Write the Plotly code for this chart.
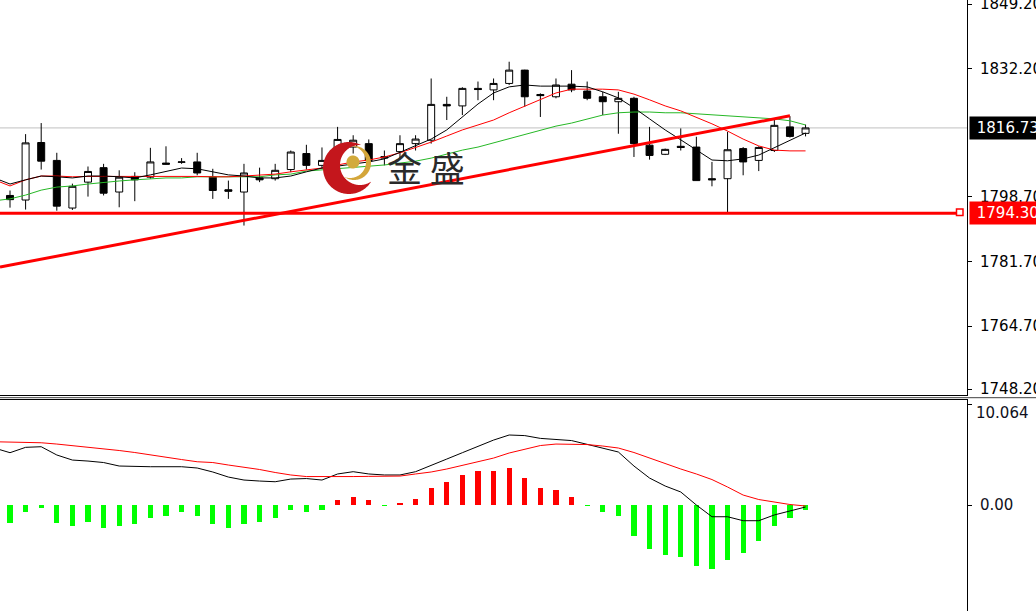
import numpy as np
import plotly.graph_objects as go

# ---------------- data ----------------
idx = list(range(52))
opens = [1799.0, 1797.8, 1812.9, 1808.2, 1795.7, 1802.5, 1806.3, 1799.9, 1804.0, 1803.8,
         1807.5, 1807.7, 1807.8, 1803.8, 1800.5, 1799.9, 1803.6, 1803.4, 1805.8, 1810.0,
         1806.9, 1810.0, 1811.7, 1812.6, 1808.8, 1810.5, 1812.6, 1813.5, 1822.9, 1822.5,
         1827.1, 1826.7, 1828.4, 1831.9, 1825.5, 1824.9, 1828.2, 1826.4, 1824.9, 1823.6,
         1824.5, 1812.2, 1809.8, 1811.9, 1811.7, 1803.4, 1803.4, 1811.3, 1808.2, 1810.8,
         1817.0, 1815.3]
highs = [1800.3, 1815.1, 1818.0, 1810.2, 1802.1, 1806.6, 1807.3, 1805.6, 1805.1, 1811.5,
         1811.9, 1808.8, 1810.2, 1806.0, 1802.9, 1807.3, 1806.3, 1807.3, 1810.8, 1812.3,
         1811.6, 1817.0, 1814.8, 1813.7, 1810.8, 1814.8, 1814.8, 1829.7, 1824.9, 1827.4,
         1828.9, 1829.7, 1834.1, 1832.0, 1825.8, 1829.7, 1831.9, 1828.9, 1826.2, 1826.2,
         1824.9, 1817.0, 1811.3, 1816.6, 1814.4, 1807.8, 1815.7, 1811.7, 1811.9, 1818.8,
         1819.8, 1817.6]
lows = [1795.8, 1795.3, 1805.8, 1795.0, 1795.2, 1798.7, 1799.0, 1795.9, 1797.5, 1803.4,
        1807.1, 1807.3, 1804.3, 1798.1, 1798.1, 1791.1, 1802.5, 1802.9, 1805.1, 1805.8,
        1806.0, 1803.0, 1810.0, 1806.9, 1806.9, 1808.8, 1810.8, 1812.6, 1818.8, 1820.1,
        1824.0, 1824.0, 1828.0, 1822.3, 1819.6, 1824.5, 1826.1, 1824.0, 1820.1, 1815.2,
        1809.1, 1808.4, 1809.6, 1810.8, 1802.9, 1801.4, 1794.5, 1804.3, 1805.4, 1810.4,
        1814.2, 1814.5]
closes = [1797.9, 1812.8, 1808.0, 1796.2, 1801.4, 1805.3, 1799.6, 1803.8, 1803.1, 1807.8,
          1807.2, 1807.8, 1804.9, 1800.3, 1800.1, 1804.9, 1803.1, 1805.6, 1810.4, 1806.9,
          1808.2, 1813.7, 1813.5, 1808.2, 1809.2, 1812.6, 1813.8, 1822.9, 1822.5, 1827.1,
          1826.8, 1828.4, 1831.9, 1824.9, 1825.2, 1828.0, 1826.7, 1824.5, 1823.6, 1824.5,
          1812.6, 1809.5, 1811.1, 1811.6, 1802.9, 1803.1, 1811.0, 1807.8, 1811.6, 1817.4,
          1814.5, 1816.73]

line_idx = list(range(-1, 52))
ma_black = [1803.6, 1802.0, 1803.1, 1804.1, 1803.9, 1803.6, 1804.1, 1804.1, 1803.9, 1803.6,
            1804.4, 1805.4, 1806.2, 1806.0, 1805.2, 1804.4, 1804.1, 1803.6, 1803.6, 1804.1,
            1805.2, 1806.2, 1806.7, 1807.3, 1807.8, 1808.6, 1810.4, 1812.0, 1813.8, 1816.2,
            1819.6, 1823.0, 1825.9, 1827.5, 1828.0, 1827.7, 1827.7, 1827.7, 1827.5, 1826.2,
            1824.6, 1822.0, 1819.1, 1816.2, 1813.6, 1810.9, 1808.3, 1808.1, 1808.6, 1809.6,
            1811.5, 1813.6, 1815.4]
ma_red = [1803.1, 1801.5, 1803.1, 1804.1, 1804.1, 1803.9, 1804.0, 1804.0, 1804.0, 1804.0,
          1804.1, 1804.1, 1804.1, 1804.0, 1803.9, 1803.9, 1804.1, 1804.4, 1804.6, 1805.2,
          1805.7, 1806.2, 1807.0, 1807.8, 1808.3, 1809.1, 1810.2, 1811.5, 1813.0, 1814.6,
          1816.2, 1817.5, 1818.8, 1820.7, 1822.5, 1824.1, 1825.9, 1826.9, 1826.9, 1826.9,
          1826.7, 1825.6, 1824.1, 1822.5, 1821.2, 1819.6, 1817.8, 1815.9, 1813.8, 1812.0,
          1810.9, 1810.7, 1810.7]
ma_green = [1797.6, 1798.1, 1799.1, 1800.4, 1801.2, 1801.5, 1802.0, 1802.5, 1802.8, 1803.1,
            1803.3, 1803.6, 1803.6, 1803.9, 1803.9, 1803.9, 1803.9, 1803.9, 1804.4, 1804.6,
            1805.4, 1805.7, 1806.2, 1806.5, 1806.7, 1807.0, 1807.5, 1808.0, 1808.8, 1809.9,
            1810.9, 1811.7, 1812.8, 1813.8, 1815.1, 1816.2, 1817.2, 1818.0, 1819.1, 1820.1,
            1820.7, 1820.9, 1820.9, 1820.7, 1820.7, 1820.4, 1820.1, 1819.9, 1819.6, 1819.3,
            1819.1, 1818.6, 1817.5]

macd_main = [5.73, 5.26, 5.8, 5.86, 5.03, 4.52, 4.42, 4.27, 3.92, 3.85,
             3.85, 3.85, 3.85, 3.72, 3.32, 2.81, 2.51, 2.41, 2.34, 2.61,
             2.66, 2.51, 3.12, 3.35, 3.12, 3.02, 3.02, 3.35, 4.02, 4.62,
             5.26, 5.88, 6.53, 7.04, 6.98, 6.7, 6.58, 6.48, 6.1, 5.73,
             5.33, 3.92, 2.71, 1.91, 1.31, 0.0, -1.18, -1.18, -1.58, -1.58,
             -1.0, -0.6, -0.2]
macd_signal = [6.36, 6.33, 6.3, 6.26, 6.13, 5.98, 5.78, 5.63, 5.48, 5.28,
               5.03, 4.77, 4.57, 4.35, 4.27, 4.02, 3.82, 3.57, 3.27, 3.02,
               2.86, 2.84, 2.84, 2.86, 2.88, 2.91, 2.91, 3.12, 3.32, 3.62,
               3.97, 4.32, 4.72, 5.23, 5.63, 5.98, 6.13, 6.13, 6.08, 5.93,
               5.73, 5.28, 4.72, 4.17, 3.62, 3.12, 2.56, 1.81, 1.0, 0.55,
               0.3, 0.05, -0.1]
macd_hist = [-1.84, -0.67, -0.33, -1.84, -2.1, -1.68, -2.28, -2.1, -1.9, -1.34,
             -1.1, -0.74, -1.1, -1.9, -2.28, -1.9, -1.68, -1.34, -0.5, -0.74,
             -0.5, 0.5, 0.84, 0.5, -0.1, 0.2, 0.6, 1.7, 2.3, 3.05,
             3.45, 3.45, 3.7, 2.7, 1.7, 1.5, 0.77, -0.1, -0.74, -1.1,
             -3.08, -4.4, -5.0, -5.2, -6.1, -6.4, -5.5, -4.8, -3.6, -2.1,
             -1.27, -0.5]

trend_x = [-0.64, 50.0]
trend_y = [1780.2, 1819.9]
support_level = 1794.30
last_price = 1816.73

price_ticks = [1849.20, 1832.20, 1798.70, 1781.70, 1764.70, 1748.20]
macd_top_label = 10.064

# ---------------- layout constants ----------------
W, H = 1036, 611
PW = 967  # plot area width (px)
FONT = "DejaVu Sans"
FS = 15


def px_x(p):
    return p / PW


def px_y(p):
    return 1 - p / H


fig = go.Figure()

fig.add_trace(go.Candlestick(
    x=idx, open=opens, high=highs, low=lows, close=closes,
    increasing=dict(line=dict(color="black", width=1), fillcolor="white"),
    decreasing=dict(line=dict(color="black", width=1), fillcolor="black"),
    whiskerwidth=0, xaxis="x", yaxis="y", hoverinfo="skip", showlegend=False))

for vals, col in [(ma_green, "#26b826"), (ma_red, "#ff0000"), (ma_black, "#000000")]:
    fig.add_trace(go.Scatter(x=line_idx, y=vals, mode="lines",
                             line=dict(color=col, width=1), xaxis="x", yaxis="y",
                             hoverinfo="skip", showlegend=False))

fig.add_trace(go.Scatter(x=trend_x, y=trend_y, mode="lines",
                         line=dict(color="#ff0000", width=3), xaxis="x", yaxis="y",
                         hoverinfo="skip", showlegend=False))

hist_colors = ["#ff0000" if v > 0 else "#00ff00" for v in macd_hist]
fig.add_trace(go.Bar(x=idx, y=macd_hist, marker=dict(color=hist_colors, line=dict(width=0)),
                     width=0.33, xaxis="x2", yaxis="y2", hoverinfo="skip", showlegend=False))
fig.add_trace(go.Scatter(x=line_idx, y=macd_main, mode="lines", line=dict(color="black", width=1),
                         xaxis="x2", yaxis="y2", hoverinfo="skip", showlegend=False))
fig.add_trace(go.Scatter(x=line_idx, y=macd_signal, mode="lines", line=dict(color="#ff0000", width=1),
                         xaxis="x2", yaxis="y2", hoverinfo="skip", showlegend=False))

# ---------------- shapes ----------------
shapes = []
shapes.append(dict(type="line", xref="paper", yref="y", x0=0, x1=1, y0=last_price, y1=last_price,
                   line=dict(color="#c0c0c0", width=1), layer="below"))
shapes.append(dict(type="line", xref="paper", yref="y", x0=0, x1=px_x(957), y0=support_level,
                   y1=support_level, line=dict(color="#ff0000", width=3), layer="above"))
shapes.append(dict(type="rect", xref="paper", yref="paper", x0=px_x(956.5), x1=px_x(963),
                   y0=px_y(215.5), y1=px_y(209), line=dict(color="#ff0000", width=1.5),
                   fillcolor="white", layer="above"))
shapes.append(dict(type="line", xref="paper", yref="paper", x0=0, x1=W / PW, y0=px_y(397.7),
                   y1=px_y(397.7), line=dict(color="#404040", width=1)))


def crescent(cx, cy, R, ix, iy, r, n=240):
    phi = np.arctan2(cy - iy, cx - ix)
    t = np.linspace(phi - np.pi, phi + np.pi, n)
    ox, oy = cx + R * np.cos(t), cy + R * np.sin(t)
    ko = np.hypot(ox - ix, oy - iy) > r
    qx, qy = ix + r * np.cos(t), iy + r * np.sin(t)
    ki = np.hypot(qx - cx, qy - cy) < R
    pts = list(zip(ox[ko], oy[ko])) + list(zip(qx[ki][::-1], qy[ki][::-1]))
    return "M " + " L ".join(f"{px_x(a):.5f},{px_y(b):.5f}" for a, b in pts) + " Z"


def circle_path(cx, cy, r, n=80):
    t = np.linspace(0, 2 * np.pi, n)
    return "M " + " L ".join(f"{px_x(cx + r*np.cos(a)):.5f},{px_y(cy + r*np.sin(a)):.5f}" for a in t) + " Z"


shapes.append(dict(type="path", xref="paper", yref="paper", path=crescent(349, 168, 26, 360, 165, 20),
                   fillcolor="#c4161c", line=dict(width=0), layer="above"))
shapes.append(dict(type="path", xref="paper", yref="paper", path=crescent(354, 163, 17, 350, 162, 16),
                   fillcolor="#d4a63a", line=dict(width=0), layer="above"))
shapes.append(dict(type="path", xref="paper", yref="paper", path=circle_path(353, 162, 6.5),
                   fillcolor="#d2aa3c", line=dict(width=0), layer="above"))

# ---------------- annotations ----------------
annotations = [
    dict(xref="paper", yref="y", x=px_x(969), y=last_price, xanchor="left", yanchor="middle",
         text="\u00a0" + f"{last_price:.2f}", showarrow=False, bgcolor="black", borderpad=2,
         width=80, align="left", font=dict(family=FONT, size=FS, color="white")),
    dict(xref="paper", yref="y", x=px_x(969), y=support_level, xanchor="left", yanchor="middle",
         text="\u00a0" + f"{support_level:.2f}", showarrow=False, bgcolor="#ff0000", borderpad=2,
         width=80, align="left", font=dict(family=FONT, size=FS, color="white")),
    dict(xref="paper", yref="paper", x=px_x(974), y=px_y(413), xanchor="left", yanchor="middle",
         text=f"{macd_top_label:.3f}", showarrow=False,
         font=dict(family=FONT, size=FS, color="#101020")),
    dict(xref="paper", yref="paper", x=px_x(426), y=px_y(166), xanchor="center", yanchor="middle",
         text="金 盛", showarrow=False,
         font=dict(family="Noto Sans CJK SC", size=35, color="#2a2a2a")),
]

fig.update_layout(
    width=W, height=H,
    margin=dict(l=0, r=W - PW, t=0, b=0, pad=0, autoexpand=False),
    paper_bgcolor="white", plot_bgcolor="white",
    showlegend=False, boxgap=0.36, bargap=0,
    shapes=shapes, annotations=annotations,
    xaxis=dict(domain=[0, 1], anchor="y", range=[-0.641, 61.35], showticklabels=False, ticks="",
               showgrid=False, zeroline=False, showline=True, linecolor="black", linewidth=1,
               rangeslider=dict(visible=False), fixedrange=True, automargin=False),
    xaxis2=dict(domain=[0, 1], anchor="y2", matches="x", side="top", showticklabels=False, ticks="",
                showgrid=False, zeroline=False, showline=True, linecolor="black", linewidth=1,
                automargin=False),
    yaxis=dict(domain=[px_y(395), 1], anchor="x", side="right", range=[1746.63, 1850.3],
               tickvals=price_ticks, ticktext=[f"{v:.2f}" for v in price_ticks],
               ticks="outside", ticklen=4, tickcolor="black", ticklabelstandoff=5,
               ticklabeloverflow="allow", automargin=False,
               showgrid=False, zeroline=False, showline=True, linecolor="black", linewidth=1,
               tickfont=dict(family=FONT, size=FS, color="black")),
    yaxis2=dict(domain=[0, px_y(400)], anchor="x2", side="right", range=[-10.66, 10.56],
                tickvals=[0, macd_top_label], ticktext=["0.00", ""],
                ticks="outside", ticklen=4, tickcolor="black", ticklabelstandoff=5,
                ticklabeloverflow="allow", automargin=False,
                showgrid=False, zeroline=False, showline=True, linecolor="black", linewidth=1,
                tickfont=dict(family=FONT, size=FS, color="#101020")),
)

fig.write_html("out.html", config={"displayModeBar": False},
               post_script="document.body.style.margin='0';document.body.style.overflow='hidden';")
